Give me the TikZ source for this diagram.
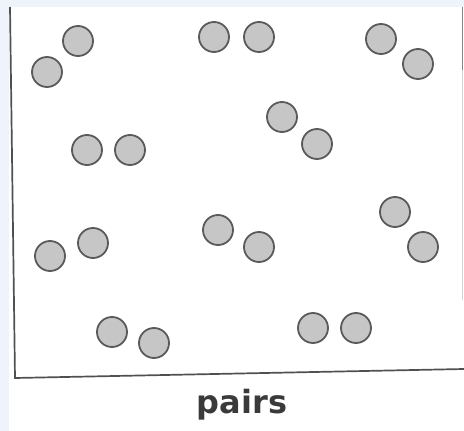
\documentclass[tikz,border=0pt]{standalone}
\usepackage{fontspec}
\newfontfamily\labelfont{DejaVu Sans}
\definecolor{bgblue}{HTML}{EEF4FA}
\definecolor{coinfill}{HTML}{C6C6C6}
\definecolor{coinedge}{HTML}{5A5A5A}
\definecolor{frame}{HTML}{505050}
\definecolor{labelcol}{HTML}{3A3A3A}
\begin{document}
\begin{tikzpicture}[x=1pt,y=-1pt,
  coin/.style={circle,draw=coinedge,fill=coinfill,line width=1.8pt,minimum size=30pt,inner sep=0pt},
  framestyle/.style={draw=frame,line width=1.7pt}]
\useasboundingbox (0,0) rectangle (464,431);
\fill[white] (0,0) rectangle (464,431);
\fill[bgblue] (0,0) rectangle (464,7);
\fill[bgblue] (0,0) rectangle (9,431);
\coordinate (tl) at (10,7);
\coordinate (bl) at (15,378);
\coordinate (br) at (464,369);
\coordinate (tr) at (462.5,7);
\coordinate (rm) at (462.5,70);
\coordinate (rl) at (462.5,300);
\draw[framestyle] (tl) -- (bl) -- (br);
\draw[draw=frame!70,line width=1.4pt] (tr) -- (rm);
\draw[draw=frame!25,line width=1.2pt] (rm) -- (rl);
\node[coin] (c1) at (78,41) {};
\node[coin] (c2) at (47,72) {};
\node[coin] (c3) at (214,37) {};
\node[coin] (c4) at (259,37) {};
\node[coin] (c5) at (381,39) {};
\node[coin] (c6) at (418,64) {};
\node[coin] (c7) at (282,117) {};
\node[coin] (c8) at (317,144) {};
\node[coin] (c9) at (87,150) {};
\node[coin] (c10) at (130,150) {};
\node[coin] (c11) at (50,256) {};
\node[coin] (c12) at (93,243) {};
\node[coin] (c13) at (218,230) {};
\node[coin] (c14) at (259,247) {};
\node[coin] (c15) at (395,212) {};
\node[coin] (c16) at (423,247) {};
\node[coin] (c17) at (112,332) {};
\node[coin] (c18) at (154,343) {};
\node[coin] (c19) at (313,328) {};
\node[coin] (c20) at (356,328) {};
\node[text=labelcol,font=\labelfont\bfseries\fontsize{32}{32}\selectfont,anchor=base] (lbl) at (242,413) {pairs};
\end{tikzpicture}
\end{document}
